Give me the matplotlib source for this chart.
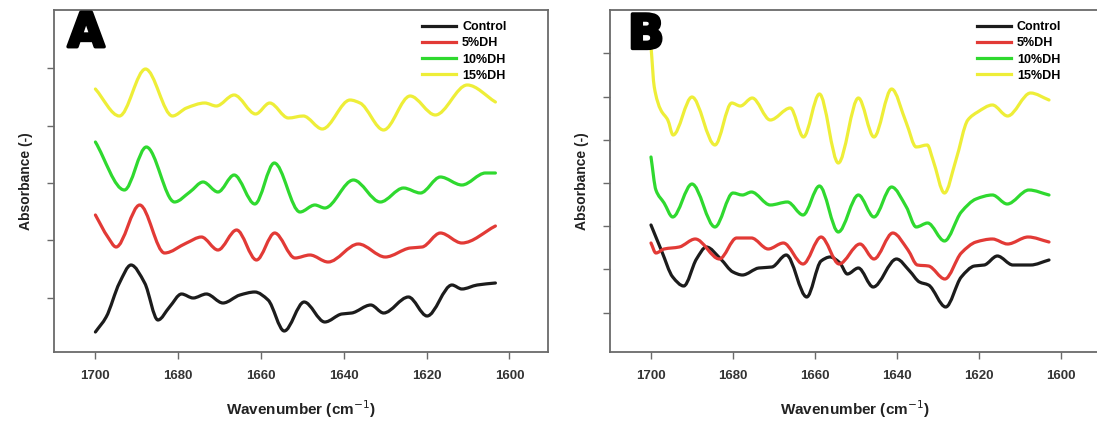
import matplotlib.pyplot as plt
import matplotlib.patheffects as pe
from matplotlib.path import Path
from matplotlib.patches import PathPatch
from matplotlib.lines import Line2D

# Panel A: wavenumber (cm-1) and offset absorbance (a.u.)
a_control_wn = [1700.0, 1697.4, 1694.2, 1691.4, 1688.1, 1684.9, 1682.1, 1679.2, 1676.4, 1673.2, 1669.2, 1665.1,
                1661.5, 1658.3, 1654.4, 1649.6, 1644.6, 1640.5, 1638.1, 1633.5, 1630.4, 1624.4, 1619.9, 1613.9,
                1611.5, 1607.8, 1603.4]
a_control_abs = [0.20, 0.35, 0.69, 0.87, 0.69, 0.32, 0.45, 0.58, 0.54, 0.58, 0.49, 0.57,
                 0.60, 0.52, 0.21, 0.50, 0.30, 0.38, 0.39, 0.47, 0.39, 0.55, 0.36, 0.67,
                 0.63, 0.67, 0.69]
a_dh5_wn = [1700.0, 1697.0, 1695.0, 1689.3, 1683.3, 1678.0, 1674.4, 1670.4, 1665.9, 1661.1, 1656.7, 1651.8,
            1648.2, 1643.8, 1636.5, 1630.0, 1624.0, 1621.1, 1616.7, 1611.5, 1603.4]
a_dh5_abs = [1.37, 1.15, 1.05, 1.47, 0.99, 1.09, 1.15, 1.02, 1.22, 0.92, 1.19, 0.94,
             0.97, 0.90, 1.08, 0.95, 1.04, 1.05, 1.19, 1.09, 1.26]
a_dh10_wn = [1700.0, 1693.0, 1687.7, 1680.9, 1677.2, 1674.0, 1670.4, 1666.5, 1661.5, 1656.8, 1650.6, 1647.0,
             1644.6, 1637.7, 1631.2, 1625.6, 1621.5, 1616.7, 1611.5, 1605.8, 1603.4]
a_dh10_abs = [2.10, 1.62, 2.05, 1.50, 1.60, 1.70, 1.60, 1.77, 1.48, 1.89, 1.40, 1.47,
              1.44, 1.72, 1.50, 1.64, 1.59, 1.75, 1.67, 1.79, 1.79]
a_dh15_wn = [1700.0, 1694.2, 1687.9, 1681.4, 1678.0, 1673.6, 1670.8, 1666.5, 1661.3, 1657.9, 1653.4, 1649.8,
             1645.2, 1638.5, 1636.1, 1630.4, 1624.0, 1617.9, 1610.2, 1603.4]
a_dh15_abs = [2.63, 2.36, 2.83, 2.36, 2.44, 2.49, 2.46, 2.57, 2.38, 2.49, 2.34, 2.36,
              2.23, 2.52, 2.49, 2.22, 2.56, 2.37, 2.67, 2.50]

# Panel B
b_control_wn = [1700.0, 1697.4, 1694.7, 1692.0, 1688.9, 1686.5, 1683.0, 1680.0, 1677.7, 1673.7, 1670.5, 1667.0,
                1662.0, 1658.5, 1656.3, 1653.9, 1652.1, 1649.4, 1645.8, 1640.1, 1636.9, 1634.5, 1632.3, 1628.1,
                1624.3, 1621.1, 1618.7, 1615.5, 1611.7, 1607.4, 1602.9]
b_control_abs = [1.27, 1.01, 0.75, 0.66, 0.93, 1.05, 0.93, 0.80, 0.77, 0.84, 0.85, 0.97,
                 0.55, 0.91, 0.95, 0.89, 0.78, 0.84, 0.65, 0.93, 0.81, 0.70, 0.67, 0.45,
                 0.75, 0.86, 0.87, 0.96, 0.87, 0.87, 0.92]
b_dh5_wn = [1700.0, 1698.8, 1696.8, 1693.1, 1689.2, 1683.3, 1679.1, 1675.5, 1671.4, 1667.7, 1662.9, 1658.5,
            1654.1, 1649.0, 1645.6, 1641.0, 1637.3, 1635.0, 1632.3, 1628.3, 1624.3, 1620.7, 1616.7, 1613.0,
            1608.0, 1602.9]
b_dh5_abs = [1.09, 0.99, 1.03, 1.05, 1.13, 0.93, 1.14, 1.14, 1.03, 1.09, 0.88, 1.15,
             0.88, 1.08, 0.93, 1.19, 1.02, 0.87, 0.86, 0.73, 0.99, 1.10, 1.13, 1.08,
             1.15, 1.10]
b_dh10_wn = [1700.0, 1698.8, 1696.8, 1694.7, 1690.0, 1684.4, 1680.0, 1677.7, 1675.5, 1670.9, 1666.7, 1662.9,
             1658.9, 1654.3, 1649.4, 1645.6, 1641.3, 1637.7, 1635.3, 1632.5, 1628.4, 1624.3, 1620.7, 1616.7,
             1613.1, 1607.8, 1602.9]
b_dh10_abs = [1.95, 1.62, 1.49, 1.35, 1.68, 1.25, 1.59, 1.57, 1.60, 1.47, 1.50, 1.37,
              1.66, 1.20, 1.57, 1.35, 1.65, 1.45, 1.25, 1.29, 1.11, 1.40, 1.53, 1.57,
              1.48, 1.62, 1.57]
b_dh15_wn = [1700.0, 1699.2, 1697.6, 1695.9, 1694.6, 1690.0, 1684.4, 1680.3, 1678.2, 1675.3, 1670.9, 1666.0,
             1662.8, 1658.9, 1654.3, 1649.4, 1645.6, 1641.3, 1637.7, 1635.3, 1632.6, 1631.2, 1628.4, 1625.6,
             1622.7, 1620.3, 1616.7, 1613.0, 1607.4, 1602.9]
b_dh15_abs = [3.06, 2.65, 2.42, 2.32, 2.17, 2.55, 2.07, 2.49, 2.46, 2.54, 2.32, 2.44,
              2.15, 2.58, 1.89, 2.54, 2.15, 2.63, 2.29, 2.05, 2.07, 1.92, 1.59, 1.92,
              2.32, 2.40, 2.47, 2.36, 2.59, 2.52]

labels = ["Control", "5%DH", "10%DH", "15%DH"]
colors = ["#1c1c1c", "#e23a36", "#2fd92f", "#eeee38"]

panels = [
    ("A", [(a_control_wn, a_control_abs), (a_dh5_wn, a_dh5_abs),
           (a_dh10_wn, a_dh10_abs), (a_dh15_wn, a_dh15_abs)]),
    ("B", [(b_control_wn, b_control_abs), (b_dh5_wn, b_dh5_abs),
           (b_dh10_wn, b_dh10_abs), (b_dh15_wn, b_dh15_abs)]),
]


def smooth_path(x, y):
    """Bezier path through the read points (monotone tangents, so no overshoot)."""
    n = len(x)
    d = [(y[k + 1] - y[k]) / (x[k + 1] - x[k]) for k in range(n - 1)]
    m = [d[0]] + [0.0] * (n - 2) + [d[-1]]
    for k in range(1, n - 1):
        if d[k - 1] * d[k] > 0:
            h0, h1 = x[k] - x[k - 1], x[k + 1] - x[k]
            w1, w2 = 2 * h1 + h0, h1 + 2 * h0
            m[k] = (w1 + w2) / (w1 / d[k - 1] + w2 / d[k])
    verts = [(x[0], y[0])]
    codes = [Path.MOVETO]
    for k in range(n - 1):
        h = x[k + 1] - x[k]
        verts += [(x[k] + h / 3, y[k] + m[k] * h / 3),
                  (x[k + 1] - h / 3, y[k + 1] - m[k + 1] * h / 3),
                  (x[k + 1], y[k + 1])]
        codes += [Path.CURVE4] * 3
    return Path(verts, codes)


W, H = 1097, 424
fig = plt.figure(figsize=(W / 100, H / 100), dpi=100)
fig.patch.set_facecolor("white")

# axes boxes in pixels: left, right, top, bottom
boxes = [(54, 548, 10, 352), (610, 1099, 10, 352)]
yticks = [[0.54, 1.12, 1.69, 2.26, 2.84],
          [0.39, 0.83, 1.26, 1.69, 2.12, 2.55, 2.99]]
letter_pos = [(0.028, 0.995), (0.037, 0.99)]
legend_x = [0.745, 0.750]

bold = ["Liberation Sans", "DejaVu Sans"]
spine_col = "#6a6a6a"
lw = 2.3

for i, (letter, curves) in enumerate(panels):
    l, r, t, b = boxes[i]
    ax = fig.add_axes([l / W, (H - b) / H, (r - l) / W, (b - t) / H])
    handles = []
    for (wn, ab), lab, col in zip(curves, labels, colors):
        ax.add_patch(PathPatch(smooth_path(wn, ab), fill=False, edgecolor=col, lw=lw,
                               capstyle="round", joinstyle="round"))
        handles.append(Line2D([], [], color=col, lw=lw, label=lab))
    ax.set_xlim(1710, 1590.7)
    ax.set_ylim(0, 3.42)
    ax.set_xticks([1700, 1680, 1660, 1640, 1620, 1600])
    ax.set_xticklabels(["1700", "1680", "1660", "1640", "1620", "1600"],
                       fontfamily=bold, fontweight="bold", fontsize=9.5, color="#333333")
    ax.set_yticks(yticks[i])
    ax.set_yticklabels([])
    ax.tick_params(direction="out", length=5, width=1, color=spine_col, pad=8)
    for s in ax.spines.values():
        s.set_color(spine_col)
        s.set_linewidth(1.3)
    ax.set_xlabel("Wavenumber (cm$^{-1}$)", fontfamily=bold, fontweight="bold",
                  fontsize=11, color="#222222", labelpad=12)
    ax.set_ylabel("Absorbance (-)", fontfamily=bold, fontweight="bold",
                  fontsize=10, color="#222222", labelpad=2)
    txt = ax.text(letter_pos[i][0], letter_pos[i][1], letter, transform=ax.transAxes,
                  ha="left", va="top", fontsize=34, fontweight="heavy",
                  fontfamily="DejaVu Sans", color="black")
    txt.set_path_effects([pe.Stroke(linewidth=2.5, foreground="black"), pe.Normal()])
    ax.legend(handles=handles, loc="upper left", bbox_to_anchor=(legend_x[i], 0.967),
              frameon=False, borderpad=0, borderaxespad=0, handlelength=2.7,
              handletextpad=0.5, labelspacing=0.33,
              prop={"family": bold, "weight": "bold", "size": 9})

fig.savefig("out.png", dpi=100, facecolor="white")
